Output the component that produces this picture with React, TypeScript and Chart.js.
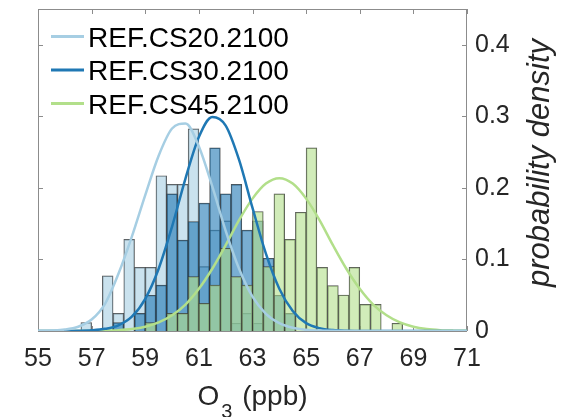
import React, { useEffect, useRef } from 'react';
import { Chart, registerables } from 'chart.js';

Chart.register(...registerables);

const FONT = "'Liberation Sans', Arial, Helvetica, sans-serif";

// Histogram bin centres (bin width 0.4 ppb)
const BIN_CENTERS = [
  56.8, 57.2, 57.6, 58.0, 58.4, 58.8, 59.2, 59.6, 60.0, 60.4,
  60.8, 61.2, 61.6, 62.0, 62.4, 62.8, 63.2, 63.6, 64.0, 64.4,
  64.8, 65.2, 65.6, 66.0, 66.4, 66.8, 67.2, 67.6, 68.0, 68.4,
];

const CS20_DENSITY = [
  0.0116, 0, 0.077, 0.0247, 0.128, 0.089, 0.089, 0.217, 0.205, 0.205,
  0.2825, 0.09, 0.141, 0.154, 0.0108, 0.0247, 0.0108, 0, 0, 0,
  0, 0, 0, 0, 0, 0, 0, 0, 0, 0,
];

const CS30_DENSITY = [
  0, 0, 0, 0.0116, 0, 0.0247, 0.05, 0.064, 0.1916, 0.127,
  0.153, 0.1786, 0.256, 0.1916, 0.205, 0.141, 0.154, 0.1017, 0.05, 0.0247,
  0, 0, 0, 0, 0, 0, 0, 0, 0, 0,
];

const CS45_DENSITY = [
  0, 0, 0, 0, 0, 0, 0.0116, 0, 0.0247, 0.0247,
  0.076, 0.0387, 0.064, 0.1157, 0.076, 0.064, 0.167, 0.09, 0.1916, 0.128,
  0.166, 0.256, 0.089, 0.0634, 0.0503, 0.089, 0.0373, 0.0373, 0, 0.0108,
];

// Fitted density curves, every 0.5 ppb
const CURVE_X = [
  55, 55.5, 56, 56.5, 57, 57.5, 58, 58.5, 59, 59.5, 60, 60.5, 61, 61.5, 62, 62.5,
  63, 63.5, 64, 64.5, 65, 65.5, 66, 66.5, 67, 67.5, 68, 68.5, 69, 69.5, 70, 70.5, 71,
];

const CS20_FIT = [
  0.0002, 0.0007, 0.002, 0.006, 0.016, 0.038, 0.08, 0.132, 0.19, 0.245, 0.283, 0.29,
  0.258, 0.202, 0.14, 0.087, 0.048, 0.024, 0.011, 0.0045, 0.0017, 0.0006, 0.0002,
  0, 0, 0, 0, 0, 0, 0, 0, 0, 0,
];

const CS30_FIT = [
  0, 0, 0.0001, 0.0003, 0.001, 0.003, 0.008, 0.02, 0.045, 0.087, 0.146, 0.213,
  0.271, 0.299, 0.287, 0.239, 0.172, 0.108, 0.059, 0.028, 0.011, 0.004, 0.0013,
  0.0004, 0.0001, 0, 0, 0, 0, 0, 0, 0, 0,
];

const CS45_FIT = [
  0, 0, 0, 0.0001, 0.0002, 0.0005, 0.0012, 0.0028, 0.006, 0.012, 0.022, 0.037,
  0.059, 0.087, 0.12, 0.155, 0.185, 0.206, 0.2135, 0.206, 0.185, 0.155, 0.12,
  0.087, 0.059, 0.037, 0.022, 0.012, 0.006, 0.0028, 0.0012, 0.0005, 0.0002,
];

const SERIES_LABELS = ['REF.CS20.2100', 'REF.CS30.2100', 'REF.CS45.2100'];
const LINE_COLORS = ['#a6cee3', '#1f78b4', '#b2df8a'];
const BAR_COLORS = ['rgba(166,206,227,0.6)', 'rgba(31,120,180,0.6)', 'rgba(178,223,138,0.6)'];

const X_TICKS = [55, 57, 59, 61, 63, 65, 67, 69, 71];
const Y_TICKS = [0, 0.1, 0.2, 0.3, 0.4];
const X_TITLE_MAIN = 'O';
const X_TITLE_SUB = '3';
const X_TITLE_REST = ' (ppb)';
const Y_TITLE = 'probability density';

const decorPlugin = {
  id: 'decor',
  beforeDatasetsDraw(chart: any) {
    const { ctx, chartArea: a, scales } = chart;
    ctx.save();
    ctx.strokeStyle = '#8c8c8c';
    ctx.lineWidth = 1;
    ctx.strokeRect(a.left + 0.5, a.top + 0.5, a.right - a.left - 1, a.bottom - a.top);
    const tl = 5;
    ctx.beginPath();
    scales.x.ticks.forEach((t: any) => {
      const px = Math.round(scales.x.getPixelForValue(t.value)) + 0.5;
      ctx.moveTo(px, a.top);
      ctx.lineTo(px, a.top + tl);
      ctx.moveTo(px, a.bottom);
      ctx.lineTo(px, a.bottom - tl);
    });
    scales.y.ticks.forEach((t: any) => {
      const py = Math.round(scales.y.getPixelForValue(t.value)) + 0.5;
      ctx.moveTo(a.left, py);
      ctx.lineTo(a.left + tl, py);
      ctx.moveTo(a.right, py);
      ctx.lineTo(a.right - tl, py);
    });
    ctx.stroke();
    ctx.restore();
  },
  afterDraw(chart: any) {
    const { ctx, chartArea: a } = chart;
    ctx.save();
    // legend
    const lineDs = chart.data.datasets.filter((d: any) => d.type === 'line');
    const rowsY = [36.5, 70, 103.5];
    lineDs.forEach((d: any, i: number) => {
      const y = rowsY[i];
      ctx.strokeStyle = d.borderColor;
      ctx.lineWidth = 3;
      ctx.beginPath();
      ctx.moveTo(51, y);
      ctx.lineTo(84, y);
      ctx.stroke();
      ctx.fillStyle = '#000';
      ctx.font = `28px ${FONT}`;
      ctx.textAlign = 'left';
      ctx.textBaseline = 'alphabetic';
      ctx.fillText(d.label, 88, y + 10);
    });
    // x title with subscript
    ctx.fillStyle = '#262626';
    ctx.textBaseline = 'alphabetic';
    ctx.textAlign = 'left';
    ctx.font = `28px ${FONT}`;
    const wO = ctx.measureText(X_TITLE_MAIN).width;
    const wR = ctx.measureText(X_TITLE_REST).width;
    ctx.font = `20px ${FONT}`;
    const w3 = ctx.measureText(X_TITLE_SUB).width;
    const gap = 2;
    const x0 = (a.left + a.right) / 2 - (wO + w3 + wR + gap * 2) / 2;
    ctx.font = `28px ${FONT}`;
    ctx.fillText(X_TITLE_MAIN, x0, 405);
    ctx.font = `20px ${FONT}`;
    ctx.fillText(X_TITLE_SUB, x0 + wO + gap, 418);
    ctx.font = `28px ${FONT}`;
    ctx.fillText(X_TITLE_REST, x0 + wO + w3 + gap * 2, 405);
    // y title (rotated, reading upwards)
    ctx.translate(549, 163);
    ctx.rotate(-Math.PI / 2);
    ctx.font = `italic 31px ${FONT}`;
    ctx.textAlign = 'center';
    ctx.fillText(Y_TITLE, 0, 0);
    ctx.restore();
  },
};

export default function App() {
  const ref = useRef<HTMLCanvasElement | null>(null);
  useEffect(() => {
    if (!ref.current) return;
    const barSets = [CS20_DENSITY, CS30_DENSITY, CS45_DENSITY].map((vals, i) => ({
      type: 'bar' as const,
      label: SERIES_LABELS[i] + ' hist',
      data: BIN_CENTERS.map((x, j) => ({ x, y: vals[j] })),
      backgroundColor: BAR_COLORS[i],
      borderColor: 'rgba(50,50,50,0.85)',
      borderWidth: 0.75,
      barPercentage: 1,
      categoryPercentage: 1,
      grouped: false,
      order: 3 - i + 1,
    }));
    const lineSets = [CS20_FIT, CS30_FIT, CS45_FIT].map((vals, i) => ({
      type: 'line' as const,
      label: SERIES_LABELS[i],
      data: CURVE_X.map((x, j) => ({ x, y: vals[j] })),
      borderColor: LINE_COLORS[i],
      backgroundColor: LINE_COLORS[i],
      borderWidth: 2.5,
      pointRadius: 0,
      cubicInterpolationMode: 'monotone' as const,
      fill: false,
      order: 0,
    }));
    const chart = new Chart(ref.current, {
      type: 'bar',
      data: { datasets: [...lineSets, ...barSets] as any },
      options: {
        responsive: false,
        animation: false,
        layout: { padding: { left: 38, top: 9, right: 0, bottom: 0 } },
        plugins: { legend: { display: false }, tooltip: { enabled: false } },
        scales: {
          x: {
            type: 'linear',
            position: 'bottom',
            offset: false,
            min: 55,
            max: 71,
            afterBuildTicks: (s: any) => {
              s.ticks = X_TICKS.map((v) => ({ value: v }));
            },
            afterFit: (s: any) => {
              s.height = 86;
              s.paddingLeft = 0;
              s.paddingRight = 0;
            },
            grid: { display: false, drawTicks: false },
            border: { display: false },
            ticks: {
              autoSkip: false,
              maxRotation: 0,
              padding: 13,
              color: '#262626',
              font: { family: FONT, size: 25 },
              callback: (v: any) => String(v),
            },
          },
          y: {
            type: 'linear',
            position: 'right',
            min: 0,
            max: 0.45,
            afterBuildTicks: (s: any) => {
              s.ticks = Y_TICKS.map((v) => ({ value: v }));
            },
            afterFit: (s: any) => {
              s.width = 95;
              s.paddingTop = 0;
              s.paddingBottom = 0;
            },
            grid: { display: false, drawTicks: false },
            border: { display: false },
            ticks: {
              padding: 8,
              color: '#262626',
              font: { family: FONT, size: 25 },
              callback: (v: any) => String(Math.round(v * 10) / 10),
            },
          },
        },
      },
      plugins: [decorPlugin],
    });
    return () => chart.destroy();
  }, []);
  return (
    <div style={{ position: 'absolute', left: 0, top: 0, width: 562, height: 417, background: '#fff' }}>
      <canvas ref={ref} width={562} height={417} style={{ display: 'block' }} />
    </div>
  );
}
